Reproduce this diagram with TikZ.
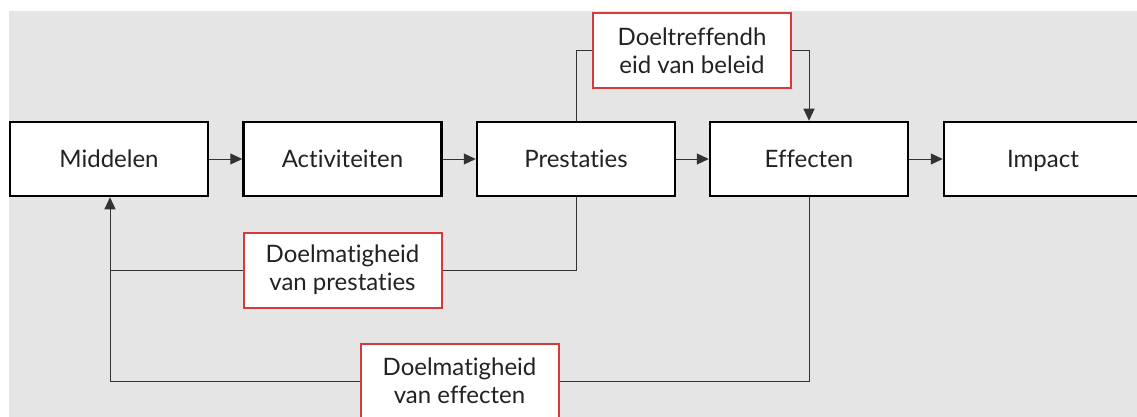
\documentclass[tikz,border=0pt]{standalone}
\usepackage{fontspec}
\setmainfont{Lato}[Ligatures=NoCommon]
\usetikzlibrary{arrows.meta}
\definecolor{bg}{HTML}{E5E5E5}
\definecolor{redb}{HTML}{D63A3A}
\definecolor{txt}{HTML}{222222}
\definecolor{ln}{HTML}{333333}
\tikzset{
  mainbox/.style={draw=black, line width=2.5pt, fill=white, minimum width=198pt, minimum height=74pt, inner sep=0pt, text height=18pt, text depth=2pt, font=\fontsize{24}{28}\selectfont, text=txt},
  redbox/.style={draw=redb, line width=2pt, fill=white, minimum width=198pt, minimum height=75pt, inner sep=0pt, align=center, font=\fontsize{24}{28}\selectfont, text=txt},
  conn/.style={draw=ln, line width=1pt},
  arr/.style={conn, -{Triangle[length=12pt,width=11pt]}}
}
\begin{document}
\begin{tikzpicture}[x=1pt,y=-1pt]
\useasboundingbox (0,0) rectangle (1137,417);
\clip (0,0) rectangle (1137,417);
\fill[bg] (9,11) rectangle (1137,417);
\node[mainbox] (mid) at (109,159) {Middelen};
\node[mainbox] (act) at (342.5,159) {Activiteiten};
\node[mainbox] (pre) at (576,159) {Prestaties};
\node[mainbox] (eff) at (809,159) {Effecten};
\node[mainbox] (imp) at (1043,159) {Impact};
\node[redbox] (doel) at (692,50.5) {Doeltreffendh\\eid van beleid};
\node[redbox] (dvp) at (342.5,270) {Doelmatigheid\\van prestaties};
\node[redbox] (dve) at (459.5,381) {Doelmatigheid\\van effecten};
\coordinate (lft) at (110,381);
\draw[arr] (mid) -- (act);
\draw[arr] (act) -- (pre);
\draw[arr] (pre) -- (eff);
\draw[arr] (eff) -- (imp);
\draw[conn] (pre.north) |- (doel.west);
\draw[arr] (doel.east) -| (eff.north);
\draw[conn] (pre.south) |- (dvp.east);
\draw[conn] (dvp.west) -- (lft |- dvp.west);
\draw[conn] (eff.south) |- (dve.east);
\draw[arr] (dve.west) -- (lft) -- (lft |- mid.south);
\end{tikzpicture}
\end{document}
